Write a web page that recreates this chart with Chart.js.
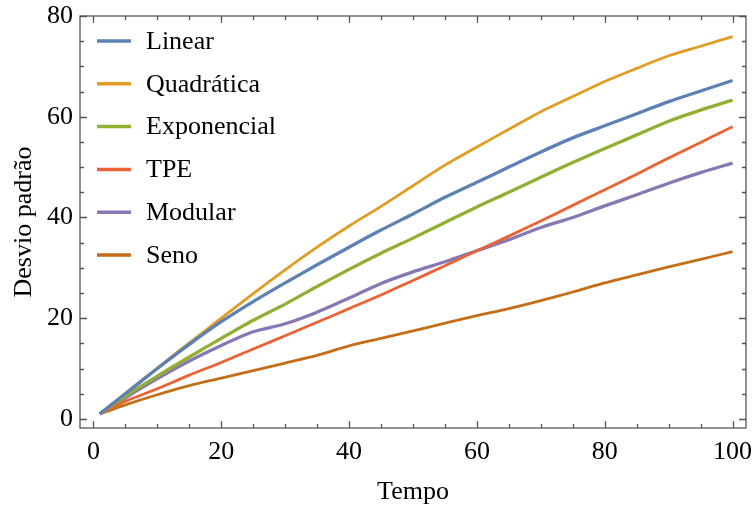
<!DOCTYPE html>
<html>
<head>
<meta charset="utf-8">
<script src="https://cdn.jsdelivr.net/npm/chart.js@4/dist/chart.umd.min.js"></script>
<style>
  html, body { margin: 0; padding: 0; background: #fff; }
  #wrap { width: 754px; height: 509px; }
</style>
</head>
<body>
<div id="wrap"><canvas id="grafico" width="754" height="509"></canvas></div>
<script>
const tempo = [1, 5, 10, 15, 20, 25, 30, 35, 40, 45, 50, 55, 60, 65, 70, 75, 80, 85, 90, 95, 100];

const linear      = [1, 5.0, 10.0, 14.8, 19.3, 23.3, 27.0, 30.6, 34.1, 37.5, 40.7, 44.0, 47.0, 50.0, 53.0, 55.8, 58.2, 60.6, 63.0, 65.1, 67.2];
const quadratica  = [1, 5.1, 10.1, 15.1, 20.0, 24.9, 29.6, 34.1, 38.3, 42.2, 46.3, 50.4, 54.0, 57.5, 61.0, 64.0, 67.0, 69.6, 72.1, 74.0, 75.9];
const exponencial = [1, 4.5, 8.5, 12.3, 16.0, 19.6, 22.8, 26.3, 29.7, 32.9, 35.9, 39.0, 42.1, 45.0, 48.0, 50.9, 53.7, 56.4, 59.1, 61.3, 63.3];
const tpe         = [1, 3.5, 6.0, 8.7, 11.2, 13.9, 16.5, 19.2, 21.9, 24.6, 27.5, 30.4, 33.4, 36.3, 39.3, 42.4, 45.5, 48.6, 51.8, 54.9, 58.0];
const modular     = [1, 4.2, 8.0, 11.5, 14.6, 17.3, 18.9, 21.2, 24.0, 26.9, 29.2, 31.2, 33.4, 35.6, 38.0, 40.0, 42.3, 44.5, 46.8, 48.9, 50.8];
const seno        = [1, 2.8, 4.8, 6.6, 8.1, 9.6, 11.1, 12.6, 14.5, 16.0, 17.5, 19.0, 20.5, 21.9, 23.5, 25.2, 27.0, 28.6, 30.2, 31.7, 33.2];

const xTicks = [0, 20, 40, 60, 80, 100];
const yTicks = [0, 20, 40, 60, 80];

const fonte = "'Liberation Serif', 'DejaVu Serif', serif";

function serie(label, valores, cor, largura) {
    return {
        label: label,
        data: tempo.map((t, i) => ({ x: t, y: valores[i] })),
        borderColor: cor,
        borderWidth: largura,
        pointRadius: 0,
        tension: 0.25,
        fill: false
    };
}

const quadro = {
    id: 'quadro',
    afterDatasetsDraw(chart) {
        const { ctx, chartArea: a, scales: { x, y } } = chart;
        ctx.save();
        ctx.strokeStyle = '#555';
        ctx.lineWidth = 1.3;
        ctx.strokeRect(a.left, a.top, a.right - a.left, a.bottom - a.top);
        ctx.beginPath();
        for (let v = 0; v <= 100; v += 5) {
            const px = Math.round(x.getPixelForValue(v)) + 0.5;
            const len = v % 20 === 0 ? 7 : 4;
            ctx.moveTo(px, a.bottom); ctx.lineTo(px, a.bottom - len);
            ctx.moveTo(px, a.top); ctx.lineTo(px, a.top + len);
        }
        for (let v = 0; v <= 80; v += 5) {
            const py = Math.round(y.getPixelForValue(v)) + 0.5;
            const len = v % 20 === 0 ? 7 : 4;
            ctx.moveTo(a.left, py); ctx.lineTo(a.left + len, py);
            ctx.moveTo(a.right, py); ctx.lineTo(a.right - len, py);
        }
        ctx.stroke();
        ctx.restore();
    },
    afterDraw(chart) {
        // legenda dentro da area do grafico
        const ctx = chart.ctx;
        ctx.save();
        ctx.font = '26px ' + fonte;
        ctx.textBaseline = 'middle';
        ctx.fillStyle = '#000';
        chart.data.datasets.forEach((ds, i) => {
            const yy = 41 + i * 42.8;
            ctx.strokeStyle = ds.borderColor;
            ctx.lineWidth = 3.5;
            ctx.beginPath();
            ctx.moveTo(97, yy);
            ctx.lineTo(131, yy);
            ctx.stroke();
            ctx.fillText(ds.label, 146, yy + 1);
        });
        ctx.restore();
    }
};

const ctx = document.getElementById('grafico').getContext('2d');
new Chart(ctx, {
    type: 'line',
    data: {
        datasets: [
            serie('Linear', linear, '#5e81b5', 3.3),
            serie('Quadrática', quadratica, '#e19c24', 2.8),
            serie('Exponencial', exponencial, '#8fb032', 3.3),
            serie('TPE', tpe, '#eb6235', 2.8),
            serie('Modular', modular, '#8778b3', 3.3),
            serie('Seno', seno, '#c56e1a', 2.8)
        ]
    },
    options: {
        responsive: false,
        animation: false,
        devicePixelRatio: 1,
        layout: { padding: { top: 16, right: 8, left: 0, bottom: 0 } },
        plugins: { legend: { display: false }, tooltip: { enabled: false } },
        scales: {
            x: {
                type: 'linear',
                min: -2.1,
                max: 102.1,
                grid: { display: false, drawTicks: false },
                border: { display: false },
                afterBuildTicks: s => { s.ticks = xTicks.map(v => ({ value: v })); },
                afterFit: s => { s.height = 81; s.paddingLeft = 0; s.paddingRight = 0; },
                ticks: { color: '#000', padding: 9, font: { family: fonte, size: 26 } },
                title: { display: true, text: 'Tempo', color: '#000', padding: { top: 0, bottom: 1 }, font: { family: fonte, size: 26 } }
            },
            y: {
                min: -1.8,
                max: 80,
                grid: { display: false, drawTicks: false },
                border: { display: false },
                afterBuildTicks: s => { s.ticks = yTicks.map(v => ({ value: v })); },
                afterFit: s => { s.width = 80; s.paddingTop = 0; s.paddingBottom = 0; },
                ticks: { color: '#000', padding: 7, font: { family: fonte, size: 26 } },
                title: { display: true, text: 'Desvio padrão', color: '#000', padding: { top: 9, bottom: 0 }, font: { family: fonte, size: 26 } }
            }
        }
    },
    plugins: [quadro]
});
</script>
</body>
</html>
